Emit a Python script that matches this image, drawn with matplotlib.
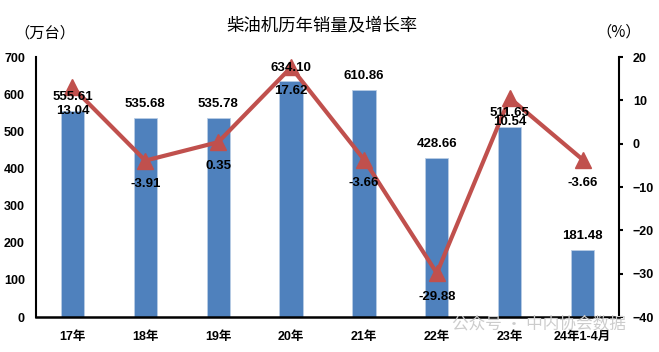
import matplotlib
matplotlib.use("Agg")
import matplotlib.pyplot as plt

categories = ["17年", "18年", "19年", "20年", "21年", "22年", "23年", "24年1-4月"]
sales = [555.61, 535.68, 535.78, 634.10, 610.86, 428.66, 511.65, 181.48]
growth = [13.04, -3.91, 0.35, 17.62, -3.66, -29.88, 10.54, -3.66]
left_ticks = [0, 100, 200, 300, 400, 500, 600, 700]
right_ticks = [-40, -30, -20, -10, 0, 10, 20]

FAM = ["Liberation Sans", "Noto Sans CJK SC", "DejaVu Sans"]
plt.rcParams["font.family"] = FAM

fig = plt.figure(figsize=(6.59, 3.52), dpi=100)
ax = fig.add_axes([36/659, 1-317/352, (619-36)/659, (317-57)/352])
ax2 = ax.twinx()

x = list(range(len(categories)))
ax.bar(x, sales, width=0.32, color="#4F81BD", edgecolor="#B9CDE5", linewidth=0.6, zorder=2)
ax.set_xlim(-0.5, len(categories) - 0.5)
ax.set_ylim(0, 700)
ax.set_yticks(left_ticks)
ax.set_xticks(x)
ax.set_xticklabels(categories, fontweight="bold", fontsize=9)
for lab in ax.get_yticklabels():
    lab.set_fontweight("bold")
    lab.set_fontsize(9)
ax.tick_params(axis="x", length=0, pad=10)
ax.tick_params(axis="y", length=0, pad=8)
for s in ["top", "right"]:
    ax.spines[s].set_visible(False)
ax.spines["left"].set_linewidth(1.5)
ax.spines["bottom"].set_linewidth(1.8)

ax2.plot(x, growth, color="#C0504D", linewidth=3, marker="^", markersize=11, zorder=3)
ax2.set_ylim(-40, 20)
ax2.set_yticks(right_ticks)
for lab in ax2.get_yticklabels():
    lab.set_fontweight("bold")
    lab.set_fontsize(9)
ax2.tick_params(axis="y", length=3, width=1.5, pad=7, direction="out")
for s in ["top", "left", "bottom"]:
    ax2.spines[s].set_visible(False)
ax2.spines["right"].set_linewidth(1.5)

for xi, v in zip(x, sales):
    ax2.annotate(f"{v:.2f}", xy=(xi, v), xycoords=ax.transData, xytext=(0, 10),
                 textcoords="offset points", ha="center", va="center",
                 fontsize=9.5, fontweight="bold", zorder=5, annotation_clip=False)
for xi, g in zip(x, growth):
    ax2.annotate(f"{g:.2f}", xy=(xi, g), xytext=(0, -17), textcoords="offset points",
                 ha="center", va="center", fontsize=9.5, fontweight="bold", zorder=5)

fig.text(322/659, 1-25/352, "柴油机历年销量及增长率", ha="center", va="center",
         fontsize=12.5, family=["Noto Sans CJK SC"])
fig.text(14/659, 1-33/352, "（万台）", ha="left", va="center", fontsize=11,
         family=["Noto Sans CJK SC"])
fig.text(596/659, 1-32/352, "（%）", ha="left", va="center", fontsize=11,
         family=["Noto Sans CJK SC"])
fig.text(452/659, 1-324/352, "公众号 · 中内协会数据", ha="left", va="center",
         fontsize=12, color="#cccccc", family=["Noto Sans CJK SC"], zorder=10)

fig.savefig("out.png", dpi=100)
